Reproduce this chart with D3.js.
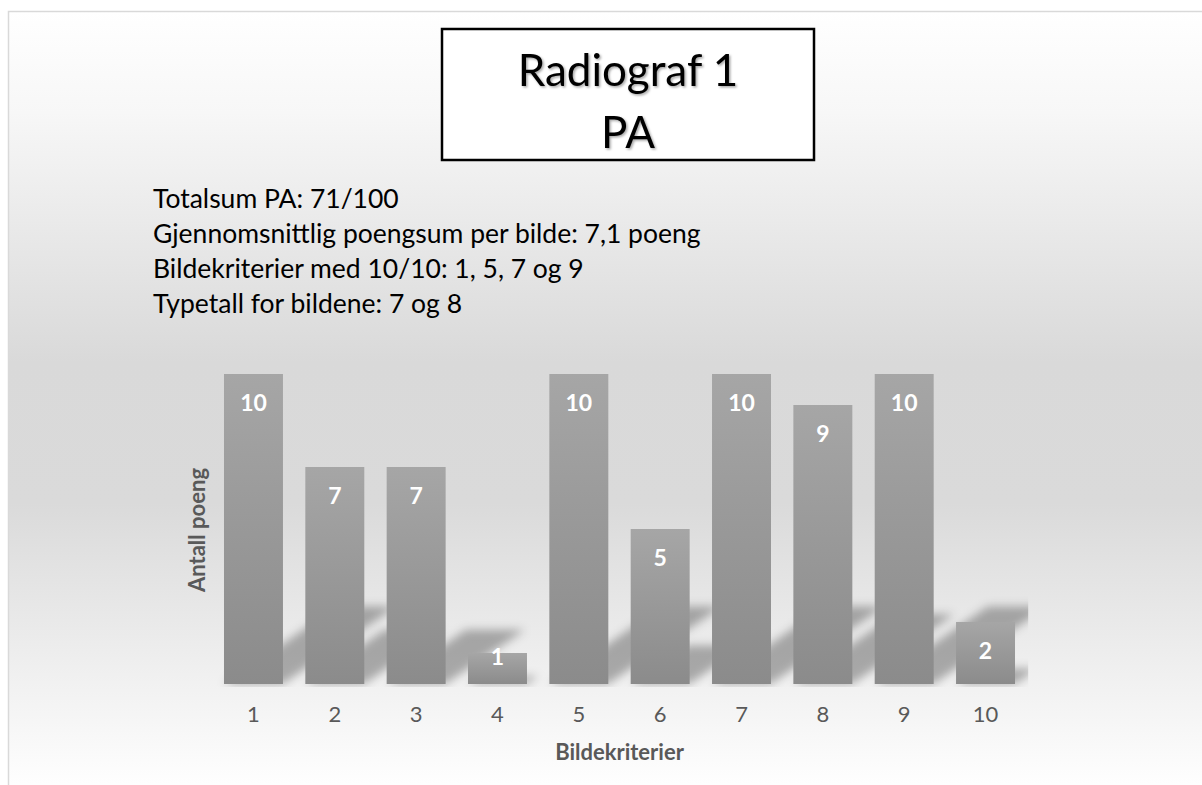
<!DOCTYPE html>
<html>
<head>
<meta charset="utf-8">
<script src="https://cdn.jsdelivr.net/npm/d3@7"></script>
<style>
body{margin:0;background:#fff;}
svg{display:block;}
text{font-family:Lato,"Open Sans",sans-serif;}
</style>
</head>
<body>
<svg id="chart" width="1202" height="785"></svg>
<script>
// data
var categories = ["1","2","3","4","5","6","7","8","9","10"];
var poeng = [10,7,7,1,10,5,10,9,10,2];
var titleLines = ["Radiograf 1","PA"];
var infoLines = [
    "Totalsum PA: 71/100",
    "Gjennomsnittlig poengsum per bilde: 7,1 poeng",
    "Bildekriterier med 10/10: 1, 5, 7 og 9",
    "Typetall for bildene: 7 og 8"
];
var xTitle = "Bildekriterier";
var yTitle = "Antall poeng";
var yDomain = [0,10];

var svg = d3.select("#chart");
var defs = svg.append("defs");

// background gradient (white -> grey -> white)
var bg = defs.append("linearGradient").attr("id","bg")
    .attr("gradientUnits","userSpaceOnUse")
    .attr("x1",0).attr("y1",11).attr("x2",0).attr("y2",792);
[[0,"#ffffff"],[0.13,"#f7f7f7"],[0.45,"#d9d9d9"],[0.63,"#dadada"],[1,"#ffffff"]].forEach(function(s){
    bg.append("stop").attr("offset",s[0]).attr("stop-color",s[1]);
});
var bar = defs.append("linearGradient").attr("id","bar")
    .attr("x1",0).attr("y1",0).attr("x2",0).attr("y2",1);
bar.append("stop").attr("offset",0).attr("stop-color","#a6a6a6");
bar.append("stop").attr("offset",1).attr("stop-color","#8b8b8b");

defs.append("filter").attr("id","blur").attr("x","-20%").attr("y","-20%").attr("width","140%").attr("height","140%")
    .append("feGaussianBlur").attr("stdDeviation",5);
var ts = defs.append("filter").attr("id","tshadow");
ts.append("feDropShadow").attr("dx",1.5).attr("dy",1.5).attr("stdDeviation",1)
    .attr("flood-color","#000").attr("flood-opacity",0.35);

// chart frame
svg.append("rect").attr("x",8.5).attr("y",11.5).attr("width",1300).attr("height",900)
    .style("fill","url(#bg)").style("stroke","#d9d9d9").style("stroke-width",1.5);

var x = d3.scaleBand().domain(categories).range([212.8,1026.2])
    .paddingInner(0.275).paddingOuter(0.1375);
var y = d3.scaleLinear().domain(yDomain).range([684,374]);

defs.append("clipPath").attr("id","plotclip").append("rect")
    .attr("x",x.range()[0]).attr("y",300).attr("width",x.range()[1]-x.range()[0]+2).attr("height",y(0)-300+3);

// perspective shadows behind the bars
var sh = svg.append("g").attr("clip-path","url(#plotclip)")
    .append("g").attr("filter","url(#blur)");
sh.selectAll("polygon").data(poeng).enter().append("polygon")
    .attr("points",function(d,i){
        var x0 = x(categories[i]), x1 = x0 + x.bandwidth(), b = y(0);
        var h = (y(0) - y(d)) * 0.25, dx = h * 1.46;
        return [[x0,b],[x1,b],[x1+dx,b-h],[x0+dx,b-h]].join(" ");
    })
    .style("fill","#000").style("opacity",0.3);

// bars
svg.selectAll("rect.bar").data(poeng).enter().append("rect").attr("class","bar")
    .attr("x",function(d,i){ return x(categories[i]); })
    .attr("y",function(d){ return y(d); })
    .attr("width",x.bandwidth())
    .attr("height",function(d){ return y(0) - y(d); })
    .style("fill","url(#bar)");

// value labels (inside end)
svg.selectAll("text.val").data(poeng).enter().append("text").attr("class","val")
    .attr("x",function(d,i){ return x(categories[i]) + x.bandwidth()/2; })
    .attr("y",function(d){ return Math.min(y(d) + 29, y(0) - 27); })
    .attr("dy","0.36em")
    .attr("text-anchor","middle")
    .style("fill","#fff").style("font-weight","bold").style("font-size","23px")
    .text(function(d){ return d; });

// x axis
var xa = svg.append("g").attr("transform","translate(0,"+y(0)+")")
    .call(d3.axisBottom(x).tickSize(0).tickPadding(22));
xa.select(".domain").remove();
xa.selectAll("text").style("font-family","Lato,'Open Sans',sans-serif")
    .style("font-size","22px").style("fill","#595959");

svg.append("text").attr("x",(x.range()[0]+x.range()[1])/2).attr("y",752).attr("dy","0.36em")
    .attr("text-anchor","middle").style("font-size","22px").style("font-weight","bold")
    .style("fill","#595959").text(xTitle);

svg.append("text").attr("transform","translate(205,530) rotate(-90)")
    .attr("text-anchor","middle").style("font-size","22px").style("font-weight","bold")
    .style("fill","#595959").text(yTitle);

// title box
svg.append("rect").attr("x",442).attr("y",29).attr("width",372).attr("height",131)
    .style("fill","#fff").style("stroke","#000").style("stroke-width",2.5);
svg.selectAll("text.title").data(titleLines).enter().append("text").attr("class","title")
    .attr("x",628).attr("y",function(d,i){ return 70 + i*62; }).attr("dy","0.36em")
    .attr("text-anchor","middle").style("font-size","44px").style("fill","#000")
    .attr("filter","url(#tshadow)")
    .text(function(d){ return d; });

// info text
svg.selectAll("text.info").data(infoLines).enter().append("text").attr("class","info")
    .attr("x",153).attr("y",function(d,i){ return 198 + i*35; }).attr("dy","0.36em")
    .style("font-size","26.5px").style("fill","#000")
    .text(function(d){ return d; });
</script>
</body>
</html>
